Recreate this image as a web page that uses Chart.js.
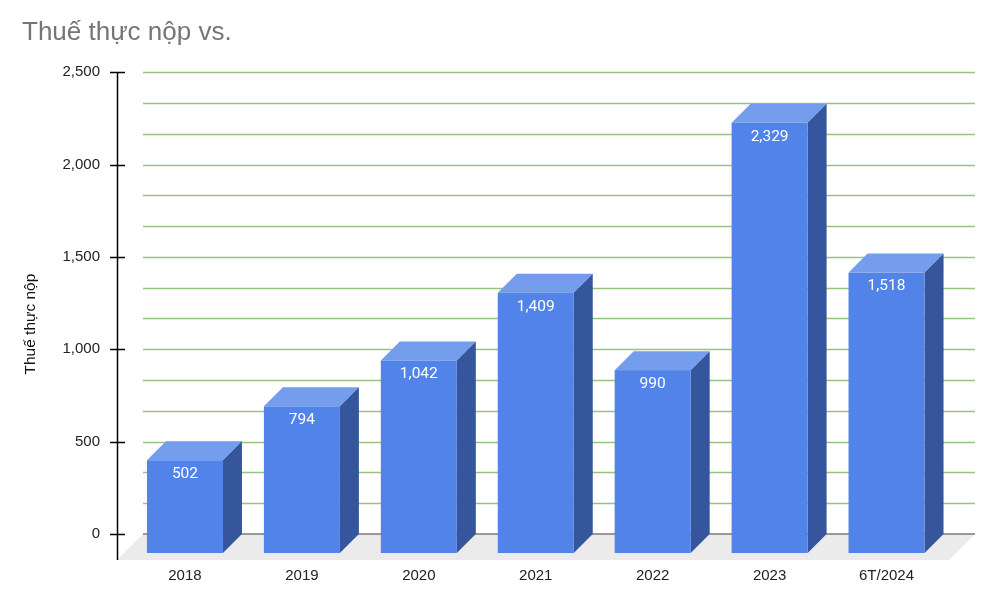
<!DOCTYPE html>
<html>
<head>
<meta charset="utf-8">
<script src="https://cdn.jsdelivr.net/npm/chart.js@4"></script>
<style>
  html, body { margin: 0; padding: 0; background: #ffffff; }
  #wrap { width: 1000px; height: 596px; position: relative; }
</style>
</head>
<body>
<div id="wrap"><canvas id="c" width="1000" height="596"></canvas></div>
<script>
const chartTitle = 'Thuế thực nộp vs.';
const yAxisTitle = 'Thuế thực nộp';
const categories = ['2018', '2019', '2020', '2021', '2022', '2023', '6T/2024'];
const values = [502, 794, 1042, 1409, 990, 2329, 1518];
const yMin = 0;
const yMax = 2500;
const yStep = 500;

// 3D projection (style)
const DEPTH = 19;        // bar depth offset (px)
const FLOOR_DEPTH = 26;  // floor depth offset (px)
const MINOR_DIV = 15;    // number of gridline intervals

const colFront = '#5183e9';
const colTop = '#759ded';
const colSide = '#35569c';
const FONT = '"Liberation Sans", Arial, sans-serif';

const threeD = {
  id: 'threeD',
  beforeDatasetsDraw(chart) {
    const ctx = chart.ctx;
    const ys = chart.scales.y;
    const ca = chart.chartArea;
    const gl = ca.left - 2.5, gr = ca.right + 11;
    const y0 = ys.getPixelForValue(yMin);
    ctx.save();
    // floor
    ctx.fillStyle = '#ebebeb';
    ctx.beginPath();
    ctx.moveTo(gl, y0);
    ctx.lineTo(gr, y0);
    ctx.lineTo(gr - FLOOR_DEPTH, y0 + FLOOR_DEPTH);
    ctx.lineTo(gl - FLOOR_DEPTH, y0 + FLOOR_DEPTH);
    ctx.closePath();
    ctx.fill();
    // gridlines
    ctx.lineWidth = 1.3;
    for (let k = 1; k <= MINOR_DIV; k++) {
      const y = Math.round(ys.getPixelForValue(yMin + (yMax - yMin) * k / MINOR_DIV)) + 0.5;
      ctx.strokeStyle = '#97c27f';
      ctx.beginPath(); ctx.moveTo(gl, y); ctx.lineTo(gr, y); ctx.stroke();
    }
    ctx.strokeStyle = '#7a7a7a';
    ctx.lineWidth = 1.6;
    ctx.beginPath(); ctx.moveTo(gl, y0); ctx.lineTo(gr, y0); ctx.stroke();
    // vertical axis line
    const ax = gl - FLOOR_DEPTH + 0.5;
    ctx.strokeStyle = '#000000';
    ctx.lineWidth = 1.5;
    ctx.beginPath();
    ctx.moveTo(ax, ys.getPixelForValue(yMax));
    ctx.lineTo(ax, y0 + FLOOR_DEPTH);
    ctx.stroke();
    ys.ticks.forEach(t => {
      const y = Math.round(ys.getPixelForValue(t.value)) + 0.5;
      ctx.beginPath(); ctx.moveTo(ax - 7.5, y); ctx.lineTo(ax + 7.5, y); ctx.stroke();
    });
    ctx.restore();
  },
  afterDatasetsDraw(chart) {
    const ctx = chart.ctx;
    const meta = chart.getDatasetMeta(0);
    ctx.save();
    meta.data.forEach((bar, i) => {
      const p = bar.getProps(['x', 'y', 'base', 'width'], true);
      const hw = p.width / 2;
      const fl = p.x - DEPTH - hw, fr = p.x - DEPTH + hw;
      const ft = p.y + DEPTH, fb = p.base + DEPTH;
      // top face
      ctx.fillStyle = colTop;
      ctx.beginPath();
      ctx.moveTo(fl, ft); ctx.lineTo(fl + DEPTH, ft - DEPTH);
      ctx.lineTo(fr + DEPTH, ft - DEPTH); ctx.lineTo(fr, ft);
      ctx.closePath(); ctx.fill();
      // side face
      ctx.fillStyle = colSide;
      ctx.beginPath();
      ctx.moveTo(fr, ft); ctx.lineTo(fr + DEPTH, ft - DEPTH);
      ctx.lineTo(fr + DEPTH, fb - DEPTH); ctx.lineTo(fr, fb);
      ctx.closePath(); ctx.fill();
      // front face
      ctx.fillStyle = colFront;
      ctx.fillRect(fl, ft, fr - fl, fb - ft);
      // label
      ctx.fillStyle = '#ffffff';
      ctx.font = '15.5px Roboto, "Liberation Sans", Arial, sans-serif';
      ctx.textAlign = 'center';
      ctx.textBaseline = 'middle';
      ctx.fillText(values[i].toLocaleString('en-US'), p.x - DEPTH, ft + 14);
    });
    ctx.restore();
  },
  afterDraw(chart) {
    // vertical axis title, centred on the full axis (back wall + floor)
    const ctx = chart.ctx;
    const ys = chart.scales.y;
    const cy = (ys.getPixelForValue(yMax) + ys.getPixelForValue(yMin) + FLOOR_DEPTH) / 2 + 8;
    ctx.save();
    ctx.translate(ys.left + 9, cy);
    ctx.rotate(-Math.PI / 2);
    ctx.fillStyle = '#111111';
    ctx.font = '15.5px ' + FONT;
    ctx.textAlign = 'center';
    ctx.textBaseline = 'middle';
    ctx.fillText(yAxisTitle, 0, 0);
    ctx.restore();
  }
};

new Chart(document.getElementById('c'), {
  type: 'bar',
  data: {
    labels: categories,
    datasets: [{
      data: values,
      backgroundColor: 'rgba(0,0,0,0)',
      borderWidth: 0,
      categoryPercentage: 1,
      barPercentage: 0.65
    }]
  },
  options: {
    responsive: false,
    animation: false,
    events: [],
    layout: { padding: { left: 22, right: 36, top: 10, bottom: 12 } },
    plugins: {
      legend: { display: false },
      tooltip: { enabled: false },
      title: {
        display: true,
        text: chartTitle,
        align: 'start',
        color: '#757575',
        font: { family: FONT, size: 26, weight: 'normal' },
        padding: { top: 7, bottom: 24 }
      }
    },
    scales: {
      x: {
        grid: { display: false, drawTicks: false },
        border: { display: false },
        ticks: {
          color: '#222222',
          padding: 33,
          labelOffset: -DEPTH,
          maxRotation: 0,
          font: { family: FONT, size: 15 }
        },
        afterFit(scale) { scale.height = 50; }
      },
      y: {
        min: yMin,
        max: yMax,
        grid: { display: false, drawTicks: false },
        border: { display: false },
        ticks: {
          stepSize: yStep,
          color: '#222222',
          padding: 45.5,
          font: { family: FONT, size: 15 }
        },
        title: { display: false },
        afterFit(scale) { scale.width = 123.5; }
      }
    }
  },
  plugins: [threeD]
});
</script>
</body>
</html>
